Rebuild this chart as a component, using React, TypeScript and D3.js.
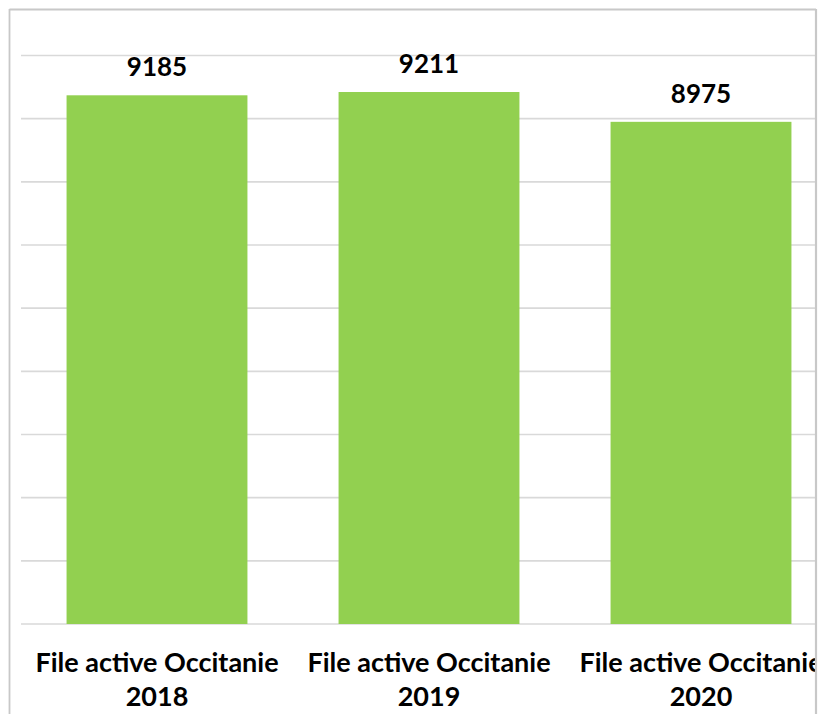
import React from "react";
import * as d3 from "d3";

const categories = ["File active Occitanie 2018", "File active Occitanie 2019", "File active Occitanie 2020"];
const values = [9185, 9211, 8975];
const gridTicks = [5000, 5500, 6000, 6500, 7000, 7500, 8000, 8500, 9000, 9500];

const W = 821;
const H = 714;

export default function App() {
  const x = d3.scaleBand<string>().domain(categories).range([21, 837]).paddingInner(0.335).paddingOuter(0.1675);
  const y = d3.scaleLinear().domain([5000, 9500]).range([624, 55.5]);
  const font = "Lato, 'Open Sans', sans-serif";
  return (
    <svg width={W} height={H} style={{ position: "absolute", left: 0, top: 0, background: "#fff" }}>
      <defs>
        <clipPath id="clip">
          <rect x={0} y={0} width={815} height={H} />
        </clipPath>
      </defs>
      <g clipPath="url(#clip)">
        {gridTicks.map((t) => (
          <line key={t} x1={21} x2={816} y1={y(t)} y2={y(t)} stroke="#D9D9D9" strokeWidth={1.6} />
        ))}
        {categories.map((c, i) => (
          <rect key={c} x={x(c)} y={y(values[i])} width={x.bandwidth()} height={y(5000) - y(values[i])} fill="#92D050" />
        ))}
        {categories.map((c, i) => (
          <text key={"v" + c} x={(x(c) as number) + x.bandwidth() / 2} y={y(values[i]) - 19} textAnchor="middle"
            fontFamily={font} fontWeight="bold" fontSize={26} fill="#000">{values[i]}</text>
        ))}
        {categories.map((c) => {
          const parts = c.split(" ");
          const year = parts.pop();
          const cx = (x(c) as number) + x.bandwidth() / 2;
          return (
            <g key={"c" + c}>
              <text x={cx} y={672} textAnchor="middle" fontFamily={font} fontWeight="bold" fontSize={27} fill="#000">{parts.join(" ")}</text>
              <text x={cx} y={706} textAnchor="middle" fontFamily={font} fontWeight="bold" fontSize={27} fill="#000">{year}</text>
            </g>
          );
        })}
      </g>
      <line x1={9.5} x2={9.5} y1={9} y2={H} stroke="#C8C8C8" strokeWidth={1.8} />
      <line x1={9.5} x2={816} y1={9.5} y2={9.5} stroke="#C8C8C8" strokeWidth={1.8} />
      <line x1={816} x2={816} y1={9} y2={H} stroke="#C8C8C8" strokeWidth={2.2} />
    </svg>
  );
}
